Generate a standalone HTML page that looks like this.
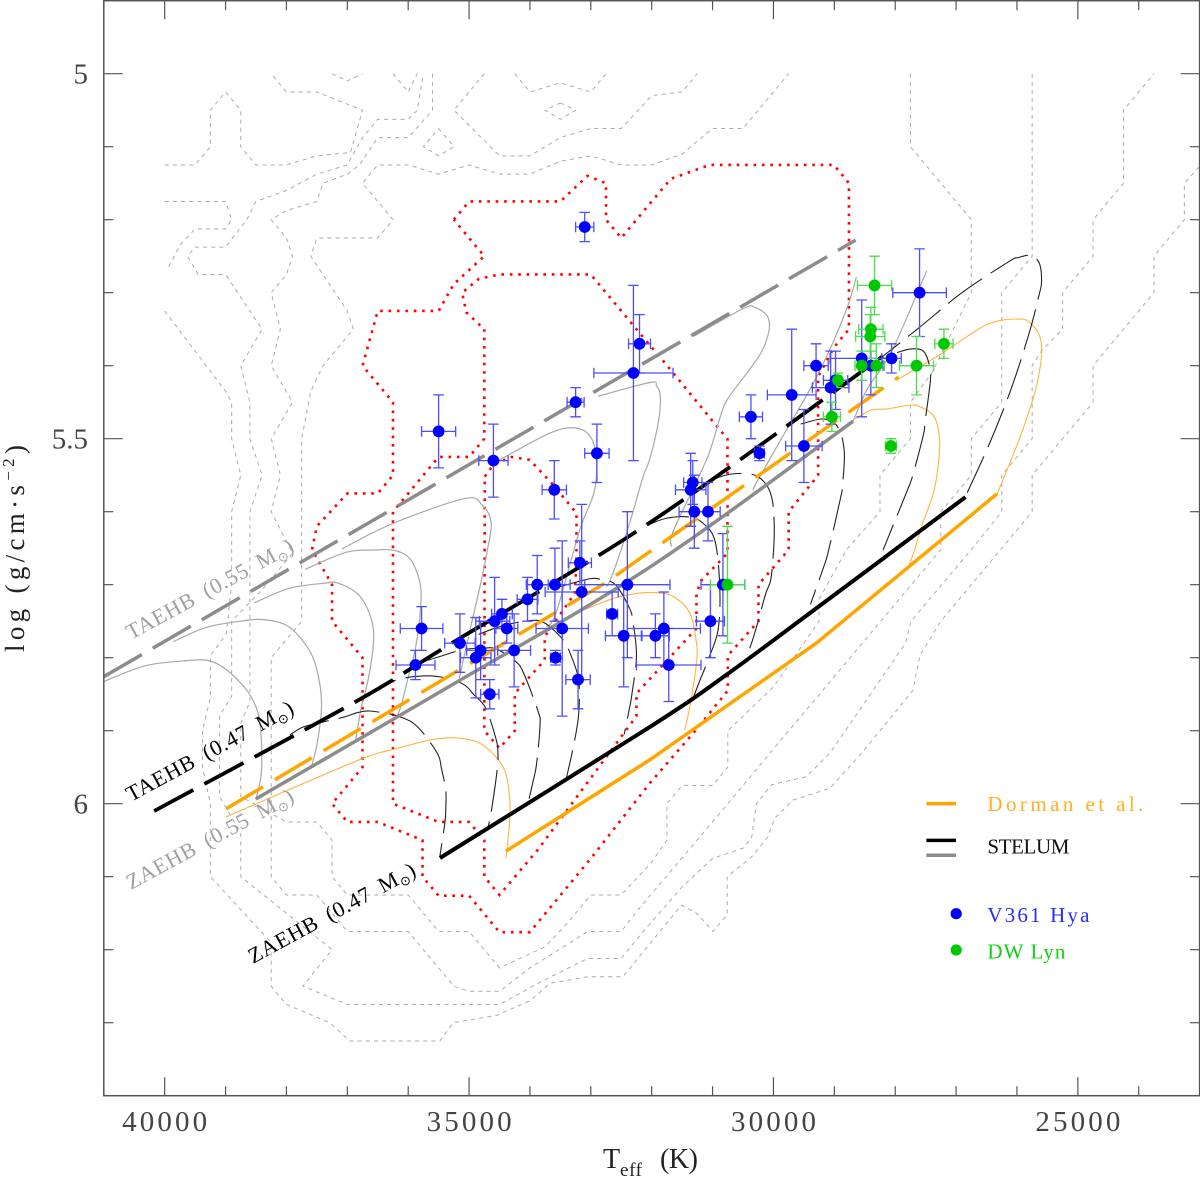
<!DOCTYPE html>
<html lang="en">
<head>
<meta charset="utf-8">
<title>log g versus Teff diagram</title>
<style>
html,body{margin:0;padding:0;background:#fff;}
svg{display:block;}
text{font-family:"Liberation Serif","DejaVu Serif",serif;}
.sym{font-family:"DejaVu Sans","Liberation Serif",serif;}
</style>
</head>
<body>
<svg id="chart" xmlns="http://www.w3.org/2000/svg" width="1200" height="1177" viewBox="0 0 1200 1177">
  <rect x="0" y="0" width="1200" height="1177" fill="#ffffff"/>
  <g id="plot"></g>
  <g id="axes"></g>

  <text transform="translate(24,652) rotate(-90)" font-size="27" fill="#222" textLength="207" lengthAdjust="spacing">log (g/cm·s<tspan dy="-10" font-size="17">−2</tspan><tspan dy="10">)</tspan></text>
  <g fill="#222">
    <text x="603" y="1168" font-size="28">T</text>
    <text x="620" y="1176" font-size="19" textLength="22" lengthAdjust="spacing">eff</text>
    <text x="660" y="1168" font-size="28" textLength="38" lengthAdjust="spacing">(K)</text>
  </g>

  <text transform="translate(131,640) rotate(-28.5)" font-size="22" word-spacing="5" fill="#a0a0a0" textLength="187" lengthAdjust="spacing">TAEHB (0.55 M<tspan class="sym" dy="4" font-size="13">⊙</tspan><tspan dy="-4">)</tspan></text>
  <text transform="translate(131,802) rotate(-28.5)" font-size="22" word-spacing="5" fill="#000000" textLength="187" lengthAdjust="spacing">TAEHB (0.47 M<tspan class="sym" dy="4" font-size="13">⊙</tspan><tspan dy="-4">)</tspan></text>
  <text transform="translate(131,890) rotate(-28.5)" font-size="22" word-spacing="5" fill="#a0a0a0" textLength="187" lengthAdjust="spacing">ZAEHB (0.55 M<tspan class="sym" dy="4" font-size="13">⊙</tspan><tspan dy="-4">)</tspan></text>
  <text transform="translate(253,964) rotate(-28.5)" font-size="22" word-spacing="5" fill="#000000" textLength="187" lengthAdjust="spacing">ZAEHB (0.47 M<tspan class="sym" dy="4" font-size="13">⊙</tspan><tspan dy="-4">)</tspan></text>

  <g>
    <line x1="926.4" x2="956" y1="803.6" y2="803.6" stroke="#ffa500" stroke-width="3.5"/>
    <text x="987.4" y="811" font-size="21" fill="#ffb020" textLength="156" lengthAdjust="spacing">Dorman et al.</text>
    <line x1="926.4" x2="956" y1="840.4" y2="840.4" stroke="#000000" stroke-width="3.5"/>
    <line x1="926.4" x2="956" y1="855.3" y2="855.3" stroke="#8c8c8c" stroke-width="3.5"/>
    <text x="987.4" y="853.4" font-size="21" fill="#111" textLength="82" lengthAdjust="spacing">STELUM</text>
    <circle cx="956.2" cy="913.7" r="5.6" fill="#0000ff"/>
    <text x="987.4" y="921.8" font-size="21" fill="#2a2aff" textLength="102" lengthAdjust="spacing">V361 Hya</text>
    <circle cx="956.2" cy="950" r="5.6" fill="#00c800"/>
    <text x="987.4" y="958.6" font-size="21" fill="#10d010" textLength="78" lengthAdjust="spacing">DW Lyn</text>
  </g>
</svg>
<script>
// ---- axis tick data ----
const xTickValues = [40000, 35000, 30000, 25000];
const xTickLabels = ['40000', '35000', '30000', '25000'];
const yTickValues = [5, 5.5, 6];
const yTickLabels = ['5', '5.5', '6'];

// ---- V361 Hya stars ----
const hyaTeff = [35500,33100,34600,33250,32900,33600,32300,32200,30230,31325,31360,31300,31075,33180,33880,33590,32400,30830,33150,34040,34460,34580,34380,33470,32650,32460,31940,31800,31720,31035,33210,33580,34260,34810,34890,34660,35150,35780,35880,27600,29700,30370,29300,28550,28400,28060,28980,29060,29500];
const hyaLogg = [5.49,5.21,5.53,5.45,5.52,5.57,5.41,5.37,5.52,5.56,5.57,5.60,5.60,5.67,5.70,5.70,5.70,5.70,5.71,5.72,5.74,5.75,5.76,5.76,5.74,5.77,5.77,5.76,5.81,5.75,5.83,5.80,5.79,5.79,5.80,5.85,5.78,5.76,5.81,5.30,5.44,5.47,5.40,5.39,5.40,5.39,5.42,5.43,5.51];
const hyaTeffErr = [280,150,240,140,200,200,650,180,80,150,250,250,200,190,180,250,700,360,600,170,170,250,180,430,90,300,230,600,530,230,200,80,270,230,250,150,250,350,320,440,400,190,200,520,200,160,200,300,300];
const hyaLoggErr = [0.05,0.02,0.05,0.02,0.04,0.04,0.12,0.04,0.01,0.03,0.05,0.05,0.04,0.03,0.04,0.05,0.10,0.07,0.12,0.03,0.02,0.06,0.02,0.12,0.03,0.07,0.03,0.05,0.05,0.05,0.04,0.01,0.05,0.04,0.055,0.02,0.04,0.03,0.02,0.06,0.09,0.03,0.03,0.08,0.04,0.02,0.04,0.05,0.05];

// ---- DW Lyn stars ----
const lynTeff = [28340,28400,28410,27200,28550,28310,27650,28940,29040,28070,30755];
const lynLogg = [5.29,5.35,5.36,5.37,5.40,5.40,5.40,5.42,5.47,5.51,5.70];
const lynTeffErr = [280,200,240,150,110,130,280,60,140,90,280];
const lynLoggErr = [0.04,0.03,0.03,0.02,0.02,0.03,0.04,0.01,0.02,0.01,0.08];

// ---- sequences [Teff, log g] ----
const taehb055 = [[41000,5.826],[28650,5.228]];
const taehb047 = [[40173,6.01],[36889,5.8615],[35283,5.78],[32031,5.615],[28203,5.387]];
const zaehb055 = [[38504,5.9936],[35316,5.839],[32032,5.676],[28690,5.476]];
const zaehb047 = [[35478,6.0744],[32032,5.895],[30766,5.823],[29322,5.734],[26846,5.58]];
const dormanZahb = [[34394,6.065],[32032,5.94],[29295,5.78],[26329,5.5756]];
const dormanTahb = [[38991,6.007],[32771,5.698],[27941,5.4155]];

// ---- evolutionary tracks, 0.55 Msun side (gray) ----
const grayTrack1 = [[41008,5.833],[40317,5.811],[39626,5.804],[39280,5.804],[38992,5.816],[38646,5.845],[38473,5.874],[38415,5.907],[38415,5.96],[38502,5.994]];
const grayTrack2 = [[39856,5.778],[39337,5.759],[38761,5.75],[38358,5.748],[37955,5.758],[37609,5.792],[37465,5.83],[37424,5.869],[37494,5.917],[37580,5.947]];
const grayTrack3 = [[38531,5.725],[37954,5.705],[37378,5.698],[37148,5.698],[36802,5.715],[36600,5.749],[36572,5.782],[36658,5.83],[36773,5.869],[36860,5.912]];
const grayTrack4 = [[37695,5.679],[37033,5.656],[36572,5.6525],[36226,5.653],[35967,5.665],[35811,5.696],[35794,5.729],[35880,5.787],[35995,5.825],[36110,5.864],[36197,5.883]];
const grayTrack5 = [[37090,5.651],[36249,5.616],[35074,5.582],[34785,5.591],[34636,5.615],[34699,5.6525],[34814,5.7],[34987,5.763],[35160,5.828]];
const grayTrack6 = [[34497,5.529],[33690,5.493],[33287,5.485],[33028,5.495],[32913,5.524],[32942,5.572],[33182,5.625],[33564,5.737],[33728,5.758]];
const grayTrack7 = [[32884,5.442],[32031,5.423],[31917,5.428],[31859,5.442],[31888,5.476],[32032,5.528],[32142,5.552],[32360,5.615],[32635,5.684],[32743,5.703]];
const grayTrack8 = [[31312,5.36],[30504,5.322],[30304,5.32],[30102,5.332],[30072,5.351],[30189,5.38],[30419,5.408],[30764,5.447],[30878,5.471],[31053,5.519],[31282,5.562],[31657,5.629],[31675,5.648]];
const grayTrack9 = [[28637,5.278],[28775,5.317],[29075,5.378],[29404,5.433],[29786,5.488],[30225,5.552],[30340,5.57]];
const grayTrack10 = [[27482,5.27],[28057,5.38],[28460,5.432],[28690,5.476]];
const grayTracks = [grayTrack1,grayTrack2,grayTrack3,grayTrack4,grayTrack5,grayTrack6,grayTrack7,grayTrack8,grayTrack9,grayTrack10];

// ---- evolutionary tracks, 0.47 Msun side (black dashed) ----
const blackTrack1 = [[37945,5.906],[37727,5.895],[37398,5.888],[37042,5.881],[36823,5.875],[36631,5.873],[36303,5.877],[36166,5.88],[35946,5.888],[35756,5.903],[35509,5.933],[35453,5.952],[35383,5.981],[35383,6.008],[35399,6.027],[35481,6.073]];
const blackTrack2 = [[36802,5.859],[36283,5.833],[35765,5.825],[35362,5.828],[35074,5.8375],[34930,5.85],[34728,5.869],[34555,5.912],[34526,5.931],[34538,5.953],[34630,6.008],[34699,6.037]];
const blackTrack3 = [[35880,5.809],[35506,5.799],[35102,5.789],[34785,5.787],[34555,5.788],[34238,5.805],[34105,5.821],[33864,5.874],[33835,5.893],[33892,5.946],[33950,5.97],[34036,6.001]];
const blackTrack4 = [[34843,5.768],[34440,5.756],[33979,5.749],[33748,5.753],[33460,5.775],[33345,5.793],[33201,5.83],[33201,5.878],[33287,5.922],[33402,5.965]];
const blackTrack5 = [[33518,5.703],[33028,5.692],[32826,5.693],[32596,5.7],[32365,5.732],[32308,5.751],[32250,5.797],[32325,5.85],[32365,5.869],[32452,5.905]];
const blackTrack6 = [[32060,5.618],[31757,5.609],[31403,5.607],[31183,5.614],[30964,5.639],[30882,5.703],[30910,5.762],[31074,5.803],[31227,5.835],[31312,5.854]];
const blackTrack7 = [[31168,5.565],[30966,5.555],[30649,5.548],[30303,5.55],[30102,5.565],[30015,5.586],[29987,5.62],[29998,5.6525],[30044,5.693],[30130,5.713],[30303,5.765],[30390,5.787]];
const blackTrack8 = [[29554,5.48],[29209,5.473],[29007,5.478],[28920,5.488],[28863,5.502],[28834,5.524],[28863,5.562],[28892,5.579],[29093,5.6525],[29168,5.674],[29393,5.727]];
const blackTrack9 = [[27970,5.382],[27739,5.377],[27538,5.38],[27440,5.399],[27422,5.42],[27509,5.476],[27538,5.495],[27711,5.55],[27797,5.57],[28056,5.623],[28200,5.6525]];
const blackTrack10 = [[28460,5.404],[27624,5.349],[26904,5.3],[26126,5.257],[25982,5.252],[25780,5.249],[25636,5.259],[25596,5.283],[25636,5.303],[25809,5.358],[26097,5.432],[26443,5.505],[26817,5.574]];
const blackTracks = [blackTrack1,blackTrack2,blackTrack3,blackTrack4,blackTrack5,blackTrack6,blackTrack7,blackTrack8,blackTrack9,blackTrack10];

// ---- Dorman tracks (orange) ----
const orangeTrack1 = [[38992,6.018],[38185,5.989],[36744,5.938],[36168,5.924],[35592,5.912],[35189,5.91],[34785,5.919],[34440,5.95],[34336,5.989],[34336,6.027],[34394,6.075]];
const orangeTrack2 = [[33128,5.735],[32635,5.719],[32250,5.712],[31922,5.711],[31648,5.716],[31374,5.739],[31265,5.78],[31265,5.808],[31374,5.867],[31457,5.899]];
const orangeTrack3 = [[28661,5.473],[28402,5.461],[28114,5.459],[27768,5.454],[27595,5.456],[27365,5.469],[27278,5.495],[27278,5.524],[27365,5.572],[27566,5.62],[27682,5.6525],[27797,5.679]];
const orangeTrack4 = [[27941,5.418],[27249,5.384],[26500,5.344],[25953,5.336],[25751,5.344],[25625,5.36],[25596,5.384],[25665,5.423],[25780,5.457],[25982,5.505],[26328,5.576]];
const orangeTracks = [orangeTrack1,orangeTrack2,orangeTrack3,orangeTrack4];

// ---- density contours (gray dotted) ----
const contourA = [[40000,5.125],[39500,5.125],[39250,5.1],[39250,5.05],[39000,5.025],[38750,5.05],[38750,5.1],[38500,5.125],[38000,5.125],[37500,5.1125],[36950,5.108],[36750,5.05],[37500,5.025],[38000,5.025],[38250,5]];
const contourB = [[37250,5],[37000,5.01],[36750,5]];
const contourC = [[36250,5],[36000,5.025],[35850,5]];
const contourD = [[40000,5.175],[39000,5.175],[38900,5.2],[39000,5.2125],[39500,5.2125],[39750,5.235],[39950,5.267]];
const contourG = [[35500,5.075],[35250,5.1],[35500,5.1125],[35750,5.1],[35500,5.075]];
const contourH = [[33500,5.04],[33250,5.05],[33500,5.0625],[33750,5.05],[33500,5.04]];
const contourI = [[34750,5],[35250,5.05],[34500,5.1125],[34000,5.1125],[33500,5.0875],[33000,5.075],[32500,5.075],[32000,5.03],[31500,5.025],[31250,5]];
const contourV = [[34250,5],[34000,5.025],[33500,5.0125],[33000,5.025],[32750,5]];
const contourK = [[27750,5],[27750,5.1],[26750,5.2],[26750,5.3],[27400,5.41],[27750,5.45],[27750,5.5],[28250,5.55],[28250,5.6],[28800,5.652],[29250,5.72],[29250,5.75],[30000,5.84],[30750,5.9],[30750,5.95],[31000,5.975],[31500,5.975],[31750,6],[31750,6.05],[32000,6.08],[32500,6.125],[33000,6.125],[33400,6.165],[33750,6.196],[34500,6.225],[35000,6.175],[35500,6.175],[36000,6.125],[37000,6.125],[37250,6.1],[37250,6.05],[37500,6.025],[38000,6.025],[38750,5.99],[38750,5.89],[38600,5.86],[38600,5.6],[38400,5.55],[38600,5.5],[38600,5.45],[38750,5.4],[38400,5.35],[39000,5.275],[39450,5.275],[39625,5.25],[39500,5.2375],[39000,5.2375],[38650,5.2],[38500,5.175],[38000,5.16],[37500,5.1375],[37000,5.125],[36750,5.0875],[36500,5.0625],[36000,5.0625],[35850,5.05],[35750,5]];
const contourJ = [[25750,5],[25750,5.25],[26250,5.3],[26250,5.45],[26750,5.5],[26750,5.55],[27250,5.6],[27250,5.652],[30060,5.931],[30880,6.013],[32200,6.143],[32500,6.175],[33050,6.175],[34000,6.225],[34500,6.257],[35000,6.257],[35250,6.25],[36000,6.175],[37000,6.175],[37250,6.15],[37500,6.125],[38000,6.125],[38250,6.1],[38250,5.8],[37750,5.75],[37750,5.5],[37600,5.435],[37400,5.4],[36900,5.35],[37000,5.325],[37600,5.25],[37500,5.225],[36500,5.225],[36250,5.2],[36750,5.15],[36500,5.125],[36000,5.125],[35500,5.1375],[35000,5.125],[34500,5.1375],[34000,5.1375],[33500,5.12],[33000,5.1125],[32500,5.125],[32000,5.125],[31500,5.11],[31000,5.075],[30500,5.075],[29750,5]];
const contourE = [[35600,5],[35600,5.05],[36000,5.0875],[36500,5.0875],[36800,5.125],[37000,5.1375],[37400,5.15],[37500,5.175],[38000,5.1875],[38250,5.2],[38000,5.225],[37900,5.25],[38000,5.275],[38250,5.3],[38100,5.35],[38250,5.4],[37900,5.45],[38250,5.5],[38100,5.55],[38250,5.6],[37900,5.657],[38380,5.705],[38900,5.75],[38900,5.853],[39100,5.88],[39100,5.99],[38750,6.04],[38750,6.1],[37250,6.2],[37730,6.25],[37000,6.275],[34500,6.275],[33730,6.24],[33050,6.212],[32500,6.212],[32140,6.175],[31500,6.114],[31000,6.075],[30500,6.061],[30360,6.047],[30280,6],[30030,5.974],[29460,5.963],[29075,5.931],[27830,5.78],[27740,5.75],[26750,5.652],[26250,5.6],[26250,5.55],[25750,5.5],[25750,5.4],[25600,5.38],[25250,5.35],[25250,5.3],[24750,5.25],[24750,5.2],[24250,5.15],[24250,5.05],[23750,5]];
const contourN = [[40000,5.325],[39000,5.435],[38900,5.45],[38900,5.5],[38750,5.55],[38900,5.6],[38900,5.7],[38990,5.768],[39250,5.797],[39250,5.855],[39378,5.9],[39378,5.95],[39250,6],[39250,6.1],[38250,6.19],[38250,6.25],[38000,6.275],[37290,6.3],[36960,6.325],[35480,6.325],[35260,6.3],[34550,6.29],[34000,6.27],[33670,6.246],[33050,6.237],[32470,6.237],[32140,6.203],[31510,6.139],[31265,6.15],[30990,6.175],[30760,6.152],[30760,6.1],[30360,6.073],[30090,6.045],[29980,6.02],[29680,5.995],[29075,5.979],[28555,5.931],[27710,5.845],[27595,5.797],[27250,5.75],[26270,5.652],[25750,5.6],[25750,5.55],[24750,5.45],[24750,5.4],[23750,5.3],[23750,5.25],[23250,5.2],[23250,5.15],[23000,5.127]];
const grayContours = [contourA,contourB,contourC,contourD,contourG,contourH,contourI,contourV,contourK,contourJ,contourE,contourN];

// ---- density contours (red dotted) ----
const redOuter = [[35250,5.2],[35000,5.175],[33500,5.175],[33056,5.14],[32750,5.15],[32750,5.2],[32500,5.225],[32030,5.178],[31686,5.144],[31050,5.125],[29007,5.125],[28760,5.15],[28760,5.35],[29007,5.375],[29266,5.415],[29266,5.55],[29750,5.6],[29750,5.652],[30246,5.7],[30246,5.75],[30750,5.797],[30750,5.845],[31283,5.9],[32032,5.972],[32999,6.075],[34002,6.176],[34500,6.176],[35000,6.126],[35500,6.126],[35765,6.1],[35765,6.05],[36500,6.025],[37000,6.025],[37250,6],[36750,5.95],[36750,5.8],[37250,5.75],[37250,5.7],[37580,5.652],[37500,5.62],[37000,5.575],[36500,5.575],[36250,5.55],[36250,5.45],[36750,5.4],[36500,5.325],[35500,5.325],[35250,5.288],[34750,5.25],[35250,5.2]];
const redMiddle = [[34750,5.35],[34750,5.5],[35000,5.525],[35500,5.525],[36250,5.6],[36250,6],[35500,6.025],[35000,6.025],[34750,6.05],[34750,6.1],[34500,6.125],[33870,6.063],[32250,5.88],[32250,5.849],[31265,5.76],[31265,5.712],[31184,5.694],[30755,5.657],[30755,5.5],[30880,5.488],[31744,5.4],[32030,5.372],[32250,5.35],[33000,5.275],[34500,5.275],[34840,5.281],[35114,5.3],[35045,5.327],[34750,5.35]];
const redInner = [[34742,5.552],[34605,5.536],[34304,5.525],[34003,5.529],[33620,5.563],[33236,5.602],[33236,5.668],[33264,5.712],[33757,5.771],[33757,5.803],[34249,5.849],[34249,5.9],[34500,5.924],[34750,5.9],[34742,5.552]];
const redContours = [redOuter,redMiddle,redInner];

// ---- axis functions ----
const xDomain = [41000, 23000];
const xRange = [103.8, 1199.6];
const yDomain = [4.9, 6.4];
const yRange = [0.7, 1095.7];
function xScale(t) { return xRange[0] + (t - xDomain[0]) / (xDomain[1] - xDomain[0]) * (xRange[1] - xRange[0]); }
function yScale(g) { return yRange[0] + (g - yDomain[0]) / (yDomain[1] - yDomain[0]) * (yRange[1] - yRange[0]); }

const SVGNS = 'http://www.w3.org/2000/svg';
const plot = document.getElementById('plot');
const axes = document.getElementById('axes');

function mk(tag, props, parent) {
  const el = document.createElementNS(SVGNS, tag);
  for (const key in props) { el.setAttribute(key, props[key]); }
  parent.appendChild(el);
  return el;
}
function linePath(points) {
  return points.map((p, i) => (i ? 'L' : 'M') + xScale(p[0]).toFixed(2) + ' ' + yScale(p[1]).toFixed(2)).join(' ');
}
function smoothPath(points) {
  const pts = points.map(p => [xScale(p[0]), yScale(p[1])]);
  let d = 'M' + pts[0][0].toFixed(2) + ' ' + pts[0][1].toFixed(2);
  for (let i = 0; i < pts.length - 1; i++) {
    const p0 = pts[Math.max(i - 1, 0)], p1 = pts[i], p2 = pts[i + 1], p3 = pts[Math.min(i + 2, pts.length - 1)];
    const c1x = p1[0] + (p2[0] - p0[0]) / 6, c1y = p1[1] + (p2[1] - p0[1]) / 6;
    const c2x = p2[0] - (p3[0] - p1[0]) / 6, c2y = p2[1] - (p3[1] - p1[1]) / 6;
    d += ' C' + c1x.toFixed(2) + ' ' + c1y.toFixed(2) + ' ' + c2x.toFixed(2) + ' ' + c2y.toFixed(2) + ' ' + p2[0].toFixed(2) + ' ' + p2[1].toFixed(2);
  }
  return d;
}

// gray contours
grayContours.forEach(function (c) {
  const p = mk('path', { d: linePath(c), fill: 'none', stroke: '#ababab', 'stroke-width': 1, 'stroke-dasharray': '4 4.2' }, plot);
  
  
});
// red contours
redContours.forEach(function (c) {
  const p = mk('path', { d: linePath(c), fill: 'none', stroke: '#ff0000', 'stroke-width': 2.6, 'stroke-dasharray': '2.6 5.8' }, plot);
  
  
});
// thin tracks
orangeTracks.forEach(function (c) {
  const p = mk('path', { d: smoothPath(c), fill: 'none', stroke: '#ffb340', 'stroke-width': 1.1 }, plot);
  
  
});
grayTracks.forEach(function (c) {
  const p = mk('path', { d: smoothPath(c), fill: 'none', stroke: '#a8a8a8', 'stroke-width': 1.2 }, plot);
  
  
});
blackTracks.forEach(function (c) {
  const p = mk('path', { d: smoothPath(c), fill: 'none', stroke: '#222222', 'stroke-width': 1.1, 'stroke-dasharray': '42 10' }, plot);
  
  
});

// thick sequences
const seqTaehb055 = mk('path', { d: linePath(taehb055), fill: 'none', stroke: '#8c8c8c', 'stroke-width': 3.5, 'stroke-dasharray': '44 12.6' }, plot);


const seqTaehb047 = mk('path', { d: smoothPath(taehb047), fill: 'none', stroke: '#000000', 'stroke-width': 3.8, 'stroke-dasharray': '44.5 12.5' }, plot);


const seqZaehb055 = mk('path', { d: smoothPath(zaehb055), fill: 'none', stroke: '#8c8c8c', 'stroke-width': 3.5 }, plot);


const seqDormanTahb = mk('path', { d: linePath(dormanTahb), fill: 'none', stroke: '#ffa500', 'stroke-width': 3.5, 'stroke-dasharray': '43 13.8' }, plot);


const seqDormanZahb = mk('path', { d: linePath(dormanZahb), fill: 'none', stroke: '#ffa500', 'stroke-width': 3.5 }, plot);


const seqZaehb047 = mk('path', { d: smoothPath(zaehb047), fill: 'none', stroke: '#000000', 'stroke-width': 4 }, plot);



// stars with error bars
function drawStars(teff, logg, teffErr, loggErr, errColor, dotColor, barName, dotName) {
  const bars = mk('g', { stroke: errColor, 'stroke-width': 1.3, fill: 'none' }, plot);
  
  
  const capSize = 5.3;
  teff.forEach(function (t, i) {
    const cx = xScale(t), cy = yScale(logg[i]);
    const x0 = xScale(t + teffErr[i]), x1 = xScale(t - teffErr[i]);
    const y0 = yScale(logg[i] - loggErr[i]), y1 = yScale(logg[i] + loggErr[i]);
    const d = 'M' + x0 + ' ' + cy + 'H' + x1 + 'M' + cx + ' ' + y0 + 'V' + y1 +
      'M' + x0 + ' ' + (cy - capSize) + 'V' + (cy + capSize) +
      'M' + x1 + ' ' + (cy - capSize) + 'V' + (cy + capSize) +
      'M' + (cx - capSize) + ' ' + y0 + 'H' + (cx + capSize) +
      'M' + (cx - capSize) + ' ' + y1 + 'H' + (cx + capSize);
    const bar = mk('path', { d: d }, bars);
    
    
  });
  return function () {
    teff.forEach(function (t, i) {
      const dot = mk('circle', { cx: xScale(t), cy: yScale(logg[i]), r: 5.9, fill: dotColor }, plot);
      
      
    });
  };
}
const drawHyaDots = drawStars(hyaTeff, hyaLogg, hyaTeffErr, hyaLoggErr, '#4d4dff', '#0000ff', 'v361-hya-error-bar', 'v361-hya-point');
const drawLynDots = drawStars(lynTeff, lynLogg, lynTeffErr, lynLoggErr, '#4cdc4c', '#00c800', 'dw-lyn-error-bar', 'dw-lyn-point');
drawHyaDots();
drawLynDots();

// axes frame
const frame = mk('rect', { x: xRange[0], y: yRange[0], width: xRange[1] - xRange[0], height: yRange[1] - yRange[0], fill: 'none', stroke: '#555555', 'stroke-width': 1.5 }, axes);



// x ticks every 1000 K, major every 5000 K
for (let t = 41000; t >= 23000; t -= 1000) {
  const major = t % 5000 === 0;
  const len = major ? 18.5 : 9.5;
  const px = xScale(t);
  const bottomTick = mk('line', { x1: px, x2: px, y1: yRange[1], y2: yRange[1] - len, stroke: '#555555', 'stroke-width': 1.2 }, axes);
  
  
  const topTick = mk('line', { x1: px, x2: px, y1: yRange[0], y2: yRange[0] + len, stroke: '#555555', 'stroke-width': 1.2 }, axes);
  
  
}
// y ticks every 0.1, major every 0.5
for (let k = 50; k <= 63; k++) {
  const g = k / 10;
  const major = k % 5 === 0;
  const len = major ? 19 : 9.5;
  const py = yScale(g);
  const leftTick = mk('line', { x1: xRange[0], x2: xRange[0] + len, y1: py, y2: py, stroke: '#555555', 'stroke-width': 1.2 }, axes);
  
  
  const rightTick = mk('line', { x1: xRange[1], x2: xRange[1] - len, y1: py, y2: py, stroke: '#555555', 'stroke-width': 1.2 }, axes);
  
  
}
// tick labels
xTickValues.forEach(function (t, i) {
  const label = mk('text', { x: xScale(t) - 42.5, y: 1131, 'font-size': 29, fill: '#444444', textLength: 85, lengthAdjust: 'spacing' }, axes);
  label.textContent = xTickLabels[i];
  
  
});
yTickValues.forEach(function (g, i) {
  const label = mk('text', { x: 88, y: yScale(g) + 10, 'font-size': 29, fill: '#444444', 'text-anchor': 'end' }, axes);
  label.textContent = yTickLabels[i];
  
  
});
</script>
</body>
</html>
